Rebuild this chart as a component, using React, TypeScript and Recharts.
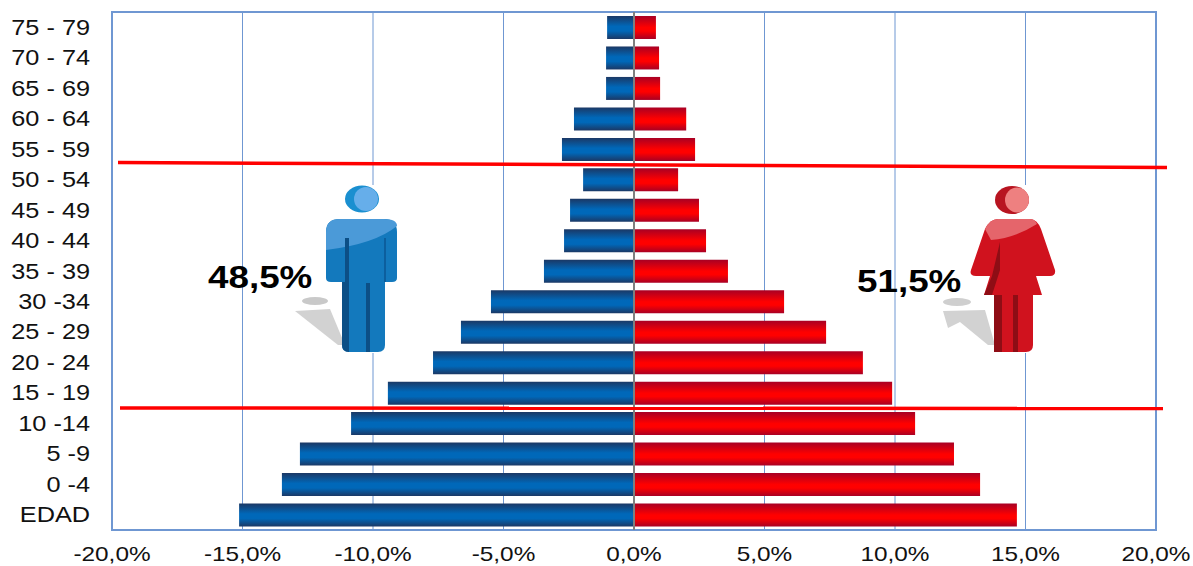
import React from 'react'
import { BarChart, Bar, XAxis, YAxis, CartesianGrid, ReferenceLine, ReferenceArea } from 'recharts'

const ageGroups = ['75 - 79', '70 - 74', '65 - 69', '60 - 64', '55 - 59', '50 - 54', '45 - 49', '40 - 44', '35 - 39', '30 -34', '25 - 29', '20 - 24', '15 - 19', '10 -14', '5 -9', '0 -4', 'EDAD']
const maleValues = [-1.03, -1.07, -1.07, -2.3, -2.76, -1.95, -2.45, -2.68, -3.45, -5.48, -6.63, -7.7, -9.43, -10.84, -12.8, -13.49, -15.13]
const femaleValues = [0.84, 0.96, 1.0, 2.0, 2.34, 1.69, 2.49, 2.76, 3.6, 5.75, 7.36, 8.77, 9.89, 10.77, 12.26, 13.26, 14.67]
const xTicks = [-20, -15, -10, -5, 0, 5, 10, 15, 20]

const data = ageGroups.map((age, i) => ({ age, male: maleValues[i], female: femaleValues[i] }))

const FONT = '"Liberation Sans", Arial, sans-serif'
const GRID = '#6f97d2'

function formatPct(v: number) {
  return v.toFixed(1).replace('.', ',') + '%'
}

// the original labels are stretched sideways, so the text gets scaled
function XTick({ x, payload }: any) {
  return (
    <g transform={`translate(${x},561) scale(1.16,1)`}>
      <text textAnchor="middle" fontFamily={FONT} fontSize={21} fill="#111">{formatPct(payload.value)}</text>
    </g>
  )
}

function YTick({ y, payload }: any) {
  return (
    <g transform={`translate(90,${y + 7.5}) scale(1.15,1)`}>
      <text textAnchor="end" fontFamily={FONT} fontSize={22} fill="#111">{payload.value}</text>
    </g>
  )
}

function ShareLabel({ x, y, children }: any) {
  return (
    <g transform={`translate(${x},${y}) scale(1.15,1)`}>
      <text fontFamily={FONT} fontSize={32} fontWeight={700} fill="#000">{children}</text>
    </g>
  )
}

function ManFigure() {
  return (
    <g>
      <rect x={312} y={185} width={86} height={168} fill="#fff" />
      <ellipse cx="315" cy="301" rx="13" ry="4" fill="#c9c9c9" />
      <path d="M295 311 L330 309 L345 345 L338 345 Z" fill="#d2d2d2" />
      <ellipse cx="362" cy="199" rx="17" ry="13.5" fill="#1a8fd0" />
      <ellipse cx="366" cy="199" rx="12" ry="12" fill="#66aeea" />
      <path d="M326 232 Q326 219 340 219 L384 219 Q397 219 397 232 L397 278 Q397 282 392 282 L385 282 L385 345 Q385 352 378 352 L349 352 Q342 352 342 345 L342 282 L331 282 Q326 282 326 278 Z" fill="#1379bd" />
      <path d="M326 232 Q326 219 340 219 L384 219 Q397 219 397 226 Q375 244 326 250 Z" fill="#4b9ad8" />
      <path d="M345 238 L349 238 L349 352 Q342 352 342 345 L342 282 L345 282 Z" fill="#0c4f86" />
      <rect x="366" y="283" width="4" height="69" fill="#0c4f86" />
      <rect x="384" y="238" width="2" height="44" fill="#0c5f9e" />
    </g>
  )
}

function WomanFigure() {
  return (
    <g>
      <rect x={965} y={185} width={94} height={168} fill="#fff" />
      <ellipse cx="957" cy="302" rx="14" ry="4" fill="#cfcfcf" />
      <path d="M943 311 L985 310 L995 345 L988 345 L960 322 L948 328 Z" fill="#d2d2d2" />
      <ellipse cx="1012" cy="200" rx="17" ry="14" fill="#b81420" />
      <ellipse cx="1017" cy="200" rx="12" ry="12.5" fill="#ee8080" />
      <path d="M985 229 Q990 219 998 219 L1030 219 Q1037 219 1041 229 L1055 270 Q1056 276 1050 276 L1036 276 L1042 295 L1033 295 L1033 345 Q1033 352 1026 352 L1002 352 Q995 352 994 345 L994 295 L984 295 L990 276 L976 276 Q969 276 971 270 Z" fill="#d0121e" />
      <path d="M985 229 Q990 219 998 219 L1030 219 Q1035 219 1037 224 Q1015 238 991 240 Z" fill="#e5656b" />
      <path d="M1000 242 L992 276 L984 295 L992 295 L1000 270 Z" fill="#8e0d15" />
      <rect x="994" y="295" width="8" height="57" fill="#8e0d15" />
      <rect x="1013" y="295" width="5" height="57" fill="#8e0d15" />
    </g>
  )
}

export default function App() {
  return (
    <div style={{ position: 'absolute', left: 0, top: 0, width: 1193, height: 566, background: '#fff' }}>
      <BarChart
        width={1193}
        height={566}
        data={data}
        layout="vertical"
        stackOffset="sign"
        barSize={23}
        margin={{ top: 12, right: 37, bottom: 0, left: 0 }}
      >
        <defs>
          <linearGradient id="maleFill" x1="0" y1="0" x2="0" y2="1">
            <stop offset="0%" stopColor="#1b3865" />
            <stop offset="45%" stopColor="#0068b9" />
            <stop offset="65%" stopColor="#0068b9" />
            <stop offset="100%" stopColor="#1b3865" />
          </linearGradient>
          <linearGradient id="femaleFill" x1="0" y1="0" x2="0" y2="1">
            <stop offset="0%" stopColor="#a80024" />
            <stop offset="50%" stopColor="#ff0000" />
            <stop offset="65%" stopColor="#ff0000" />
            <stop offset="100%" stopColor="#a80024" />
          </linearGradient>
        </defs>
        <CartesianGrid horizontal={false} stroke={GRID} strokeWidth={1} />
        <ReferenceArea x1={-20} x2={20} fill="none" stroke={GRID} strokeWidth={2} />
        <XAxis
          type="number"
          domain={[-20, 20]}
          ticks={xTicks}
          height={36}
          axisLine={false}
          tickLine={false}
          interval={0}
          tick={<XTick />}
        />
        <YAxis
          type="category"
          dataKey="age"
          width={112}
          axisLine={false}
          tickLine={false}
          interval={0}
          tick={<YTick />}
        />
        <Bar dataKey="male" stackId="pop" fill="url(#maleFill)" isAnimationActive={false} />
        <Bar dataKey="female" stackId="pop" fill="url(#femaleFill)" isAnimationActive={false} />
        <ReferenceLine x={0} stroke="#7f7f7f" strokeWidth={2} />
      </BarChart>
      <svg width={1193} height={566} style={{ position: 'absolute', left: 0, top: 0, pointerEvents: 'none' }}>
        <line x1={118} y1={162.5} x2={1167} y2={167.5} stroke="#ff0000" strokeWidth={3.5} />
        <line x1={120} y1={408} x2={1163} y2={408.5} stroke="#ff0000" strokeWidth={3.5} />
        <ManFigure />
        <WomanFigure />
        <ShareLabel x={208} y={288}>48,5%</ShareLabel>
        <ShareLabel x={857} y={292}>51,5%</ShareLabel>
      </svg>
    </div>
  )
}
